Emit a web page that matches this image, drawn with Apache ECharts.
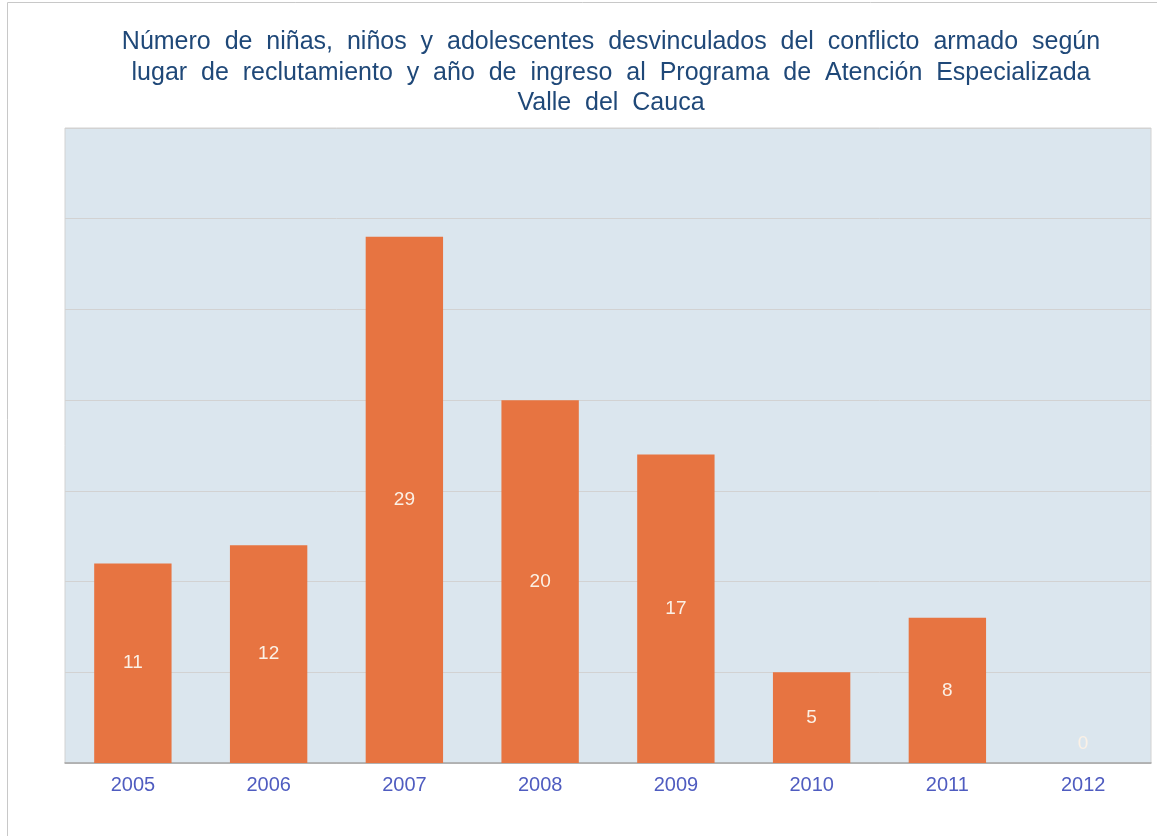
<!DOCTYPE html>
<html>
<head>
<meta charset="utf-8">
<script src="https://cdn.jsdelivr.net/npm/echarts@6/dist/echarts.min.js"></script>
<style>
  html, body { margin: 0; padding: 0; background: #fff; }
  #chart { width: 1157px; height: 836px; }
</style>
</head>
<body>
<div id="chart"></div>
<script>
const years = ['2005', '2006', '2007', '2008', '2009', '2010', '2011', '2012'];
const counts = [11, 12, 29, 20, 17, 5, 8, 0];
const titleLines = [
    'Número de niñas, niños y adolescentes desvinculados del conflicto armado según',
    'lugar de reclutamiento y año de ingreso al Programa de Atención Especializada',
    'Valle del Cauca'
];

const chart = echarts.init(document.getElementById('chart'));

// zero bar has no height, lift its label a bit like the original
const barData = counts.map(v => v === 0 ? { value: v, label: { offset: [0, -19] } } : v);

// original title is set with wide word spacing
const titleText = titleLines.map(l => l.split(' ').join('  ')).join('\n');

chart.setOption({
    animation: false,
    textStyle: { fontFamily: 'Liberation Sans, Arial, sans-serif' },
    title: {
        text: titleText,
        left: 606,
        textAlign: 'center',
        top: 22,
        textStyle: { color: '#1f4878', fontSize: 25, fontWeight: 'normal', lineHeight: 30.5 }
    },
    graphic: [{
        type: 'rect',
        shape: { x: 7.5, y: 2.5, width: 1160, height: 840 },
        style: { fill: 'none', stroke: '#c8c8c8', lineWidth: 1 },
        silent: true
    }],
    grid: {
        left: 65, right: 6, top: 128, bottom: 73,
        show: true,
        backgroundColor: '#dbe6ee',
        borderColor: '#d2d2d2',
        borderWidth: 1
    },
    xAxis: {
        type: 'category',
        data: years,
        axisLine: { lineStyle: { color: '#a6a6a6', width: 1.5 } },
        axisTick: { length: 6, lineStyle: { color: '#a6a6a6' } },
        axisLabel: { color: '#4f5cc0', fontSize: 20, margin: 12 }
    },
    yAxis: {
        type: 'value',
        min: 0, max: 35, interval: 5,
        axisLabel: { show: false },
        axisLine: { show: false },
        axisTick: { show: false },
        splitLine: { lineStyle: { color: '#d2d2d2', width: 1 } }
    },
    series: [{
        type: 'bar',
        data: barData,
        barCategoryGap: '43%',
        itemStyle: { color: '#e77441' },
        label: {
            show: true,
            position: 'inside',
            color: '#fbf1e6',
            fontSize: 19
        }
    }]
});
</script>
</body>
</html>
